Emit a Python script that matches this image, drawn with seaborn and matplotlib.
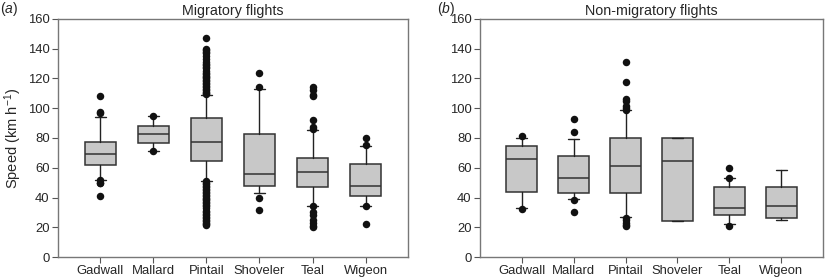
import seaborn as sns
import pandas as pd
import matplotlib.pyplot as plt

species = ["Gadwall", "Mallard", "Pintail", "Shoveler", "Teal", "Wigeon"]

# Box summaries: 10th, 25th, median, 75th, 90th percentiles
mig_p10 = [52, 71.5, 51, 43, 34.5, 34]
mig_q1 = [62, 76.5, 64.3, 47.8, 47.1, 40.9]
mig_med = [69, 82.9, 77.1, 55.6, 57.4, 47.7]
mig_q3 = [77.5, 87.8, 93.2, 82.5, 66.4, 62.4]
mig_p90 = [94, 94.5, 109, 112.8, 85.3, 74.6]

non_p10 = [32.8, 39, 27, 24, 22, 25]
non_q1 = [43.5, 43.2, 43.1, 23.9, 28.3, 26.5]
non_med = [65.6, 52.9, 61.3, 64.5, 32.8, 34.1]
non_q3 = [74.8, 67.8, 79.7, 79.8, 47.1, 46.8]
non_p90 = [80, 79.3, 98.6, 79.8, 53.2, 58.5]

# Points outside the whiskers
mig_out = {
    "Gadwall": [108.5, 97.5, 96.5, 52, 50, 49.5, 41.3],
    "Mallard": [95, 71.5],
    "Pintail": [147.5, 140, 139, 138, 137, 135, 133, 131, 130, 129, 128, 127,
                125, 124, 123, 122, 121, 120, 119, 118, 117, 116, 115, 114,
                113, 112, 111, 110, 109.5,
                51, 50, 49, 48, 47, 46, 45, 44, 43, 42, 41, 40, 39, 38, 37,
                36, 35, 34, 33, 31, 30, 29, 28, 27, 26, 25, 24, 23, 22, 21.5],
    "Shoveler": [123.7, 114, 40, 31.3],
    "Teal": [114, 112, 109, 108, 92, 87.5, 86, 34, 30, 28, 25, 23, 21, 20.2],
    "Wigeon": [80, 75, 34.5, 22.3],
}
non_out = {
    "Gadwall": [81.6, 32.6],
    "Mallard": [92.7, 84.3, 38.1, 30.4],
    "Pintail": [131, 117.4, 106.5, 105, 101.5, 100.5, 99,
                26.5, 25, 23, 21.5, 20.6],
    "Shoveler": [],
    "Teal": [59.6, 53.2, 20.9],
    "Wigeon": [],
}

sns.set_style("white")
plt.rcParams["font.family"] = ["Liberation Sans", "DejaVu Sans"]
plt.rcParams["mathtext.fontset"] = "custom"
plt.rcParams["mathtext.rm"] = "Liberation Sans"
plt.rcParams["mathtext.it"] = "Liberation Sans:italic"

fig = plt.figure(figsize=(8.25, 2.78), dpi=100)
ax1 = fig.add_axes([0.0703, 0.0755, 0.4242, 0.8562])
ax2 = fig.add_axes([0.5818, 0.0755, 0.4158, 0.8562])

panels = [
    (ax1, mig_p10, mig_q1, mig_med, mig_q3, mig_p90, mig_out, "Migratory flights", "a"),
    (ax2, non_p10, non_q1, non_med, non_q3, non_p90, non_out, "Non-migratory flights", "b"),
]

for ax, p10, q1, med, q3, p90, out, title, tag in panels:
    stats = []
    for i, sp in enumerate(species):
        stats.append({"whislo": p10[i], "q1": q1[i], "med": med[i],
                      "q3": q3[i], "whishi": p90[i], "fliers": []})
    ax.bxp(stats, positions=range(len(species)), widths=0.6,
           patch_artist=True, showfliers=False,
           boxprops=dict(facecolor="#c8c8c8", edgecolor="#333333", linewidth=1.1),
           medianprops=dict(color="#333333", linewidth=1.1),
           whiskerprops=dict(color="#222222", linewidth=1.0),
           capprops=dict(color="#222222", linewidth=1.0),
           capwidths=0.22)

    rows = [(sp, v) for sp in species for v in out[sp]]
    df = pd.DataFrame(rows, columns=["species", "speed"])
    sns.stripplot(data=df, x="species", y="speed", order=species, jitter=False,
                  color="#111111", size=5.4, ax=ax, zorder=4)

    ax.set_xlim(-0.8, 5.8)
    ax.set_ylim(0, 160)
    ax.set_yticks(range(0, 161, 20))
    ax.set_xticks(range(len(species)))
    ax.set_xticklabels(species)
    ax.set_xlabel("")
    ax.set_ylabel("")
    ax.tick_params(axis="both", direction="out", length=4, width=0.8,
                   color="#555555", labelsize=9.4, pad=2,
                   bottom=True, left=True)
    for s in ax.spines.values():
        s.set_color("#777777")
        s.set_linewidth(1.0)
    ax.set_title(title, fontsize=10.3, pad=3)
    ax.text(-0.165 if tag == "a" else -0.125, 1.08, r"($\it{%s}$)" % tag,
            transform=ax.transAxes, fontsize=10, ha="left", va="top")

ax1.set_ylabel("Speed (km h$^{-1}$)", fontsize=10.5, labelpad=3)

fig.savefig("out.png", dpi=100)
